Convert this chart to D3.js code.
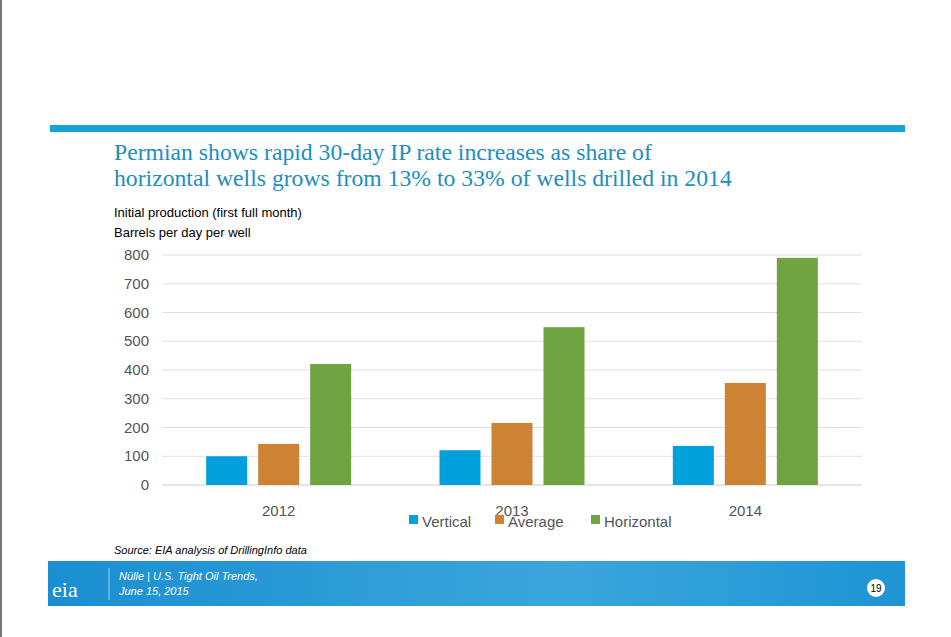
<!DOCTYPE html>
<html><head><meta charset="utf-8">
<script src="https://cdn.jsdelivr.net/npm/d3@7"></script>
<style>body{margin:0;background:#fff}</style>
</head><body>
<svg id="c" width="951" height="637"></svg>
<script>
var years = ["2012", "2013", "2014"];
var seriesNames = ["Vertical", "Average", "Horizontal"];
var vertical = [100, 121, 136];
var average = [143, 216, 355];
var horizontal = [421, 549, 790];
var yTicks = [0, 100, 200, 300, 400, 500, 600, 700, 800];
var colors = ["#00a0dc", "#cc8434", "#70a440"];

var svg = d3.select("#c");
// page frame
svg.append("rect").attr("x", 0).attr("y", 0).attr("width", 2).attr("height", 637).attr("fill", "#777");
svg.append("rect").attr("x", 50).attr("y", 125).attr("width", 855).attr("height", 7).attr("fill", "#14a3d4");

svg.append("text").attr("x", 114).attr("y", 160).attr("font-family", "Liberation Serif").attr("font-size", "23.7px")
  .attr("fill", "#1c8ec0").text("Permian shows rapid 30-day IP rate increases as share of");
svg.append("text").attr("x", 114).attr("y", 186).attr("font-family", "Liberation Serif").attr("font-size", "23.7px")
  .attr("fill", "#1c8ec0").text("horizontal wells grows from 13% to 33% of wells drilled in 2014");
svg.append("text").attr("x", 114).attr("y", 217).attr("font-family", "Liberation Sans").attr("font-size", "13px").text("Initial production (first full month)");
svg.append("text").attr("x", 114).attr("y", 237).attr("font-family", "Liberation Sans").attr("font-size", "13px").text("Barrels per day per well");

var x = d3.scaleBand().domain(years).range([162, 862]);
var y = d3.scaleLinear().domain([0, 800]).range([485, 255]);

svg.append("g").selectAll("line").data(yTicks).enter().append("line")
  .attr("x1", 162).attr("x2", 862).attr("y1", function (d) { return y(d); }).attr("y2", function (d) { return y(d); })
  .attr("stroke", function (d) { return d === 0 ? "#ccc" : "#e0e0e0"; });
svg.append("g").selectAll("text").data(yTicks).enter().append("text")
  .attr("x", 149).attr("y", function (d) { return y(d) + 5; }).attr("text-anchor", "end")
  .attr("font-family", "Liberation Sans").attr("font-size", "15px").attr("fill", "#555").text(function (d) { return d; });

var data = [vertical, average, horizontal];
var bw = 41, gap = 11;
data.forEach(function (vals, s) {
  svg.append("g").selectAll("rect").data(vals).enter().append("rect")
    .attr("x", function (d, i) { return x(years[i]) + x.bandwidth() / 2 + (s - 1) * (bw + gap) - bw / 2; })
    .attr("y", function (d) { return y(d); }).attr("width", bw)
    .attr("height", function (d) { return y(0) - y(d); }).attr("fill", colors[s]);
});
svg.append("g").selectAll("text").data(years).enter().append("text")
  .attr("x", function (d) { return x(d) + x.bandwidth() / 2; }).attr("y", 516).attr("text-anchor", "middle")
  .attr("font-family", "Liberation Sans").attr("font-size", "15px").attr("fill", "#555").text(function (d) { return d; });

var legX = [409, 495, 591];
seriesNames.forEach(function (n, i) {
  svg.append("rect").attr("x", legX[i]).attr("y", 515).attr("width", 9).attr("height", 9).attr("fill", colors[i]);
  svg.append("text").attr("x", legX[i] + 13).attr("y", 527).attr("font-family", "Liberation Sans").attr("font-size", "15px")
    .attr("fill", "#555").text(n);
});

svg.append("text").attr("x", 114).attr("y", 554).attr("font-family", "Liberation Sans").attr("font-size", "11px")
  .attr("font-style", "italic").text("Source: EIA analysis of DrillingInfo data");

var grad = svg.append("defs").append("linearGradient").attr("id", "fg");
grad.append("stop").attr("offset", "0").attr("stop-color", "#1a8ed0");
grad.append("stop").attr("offset", "0.6").attr("stop-color", "#3aa6dc");
grad.append("stop").attr("offset", "1").attr("stop-color", "#1f94d4");
svg.append("rect").attr("x", 48).attr("y", 561).attr("width", 857).attr("height", 45).attr("fill", "url(#fg)");
svg.append("text").attr("x", 52).attr("y", 597).attr("font-family", "Liberation Serif").attr("font-size", "22px").attr("fill", "#fff").text("eia");
svg.append("line").attr("x1", 109).attr("x2", 109).attr("y1", 568).attr("y2", 600).attr("stroke", "#9fd3ef");
svg.append("text").attr("x", 119).attr("y", 580).attr("font-family", "Liberation Sans").attr("font-size", "11px")
  .attr("font-style", "italic").attr("fill", "#fff").text("Nülle | U.S. Tight Oil Trends,");
svg.append("text").attr("x", 119).attr("y", 595).attr("font-family", "Liberation Sans").attr("font-size", "11px")
  .attr("font-style", "italic").attr("fill", "#fff").text("June 15, 2015");
svg.append("circle").attr("cx", 876).attr("cy", 588).attr("r", 9).attr("fill", "#fff");
svg.append("text").attr("x", 876).attr("y", 592).attr("text-anchor", "middle").attr("font-family", "Liberation Sans")
  .attr("font-size", "10px").text("19");
</script>
</body></html>
